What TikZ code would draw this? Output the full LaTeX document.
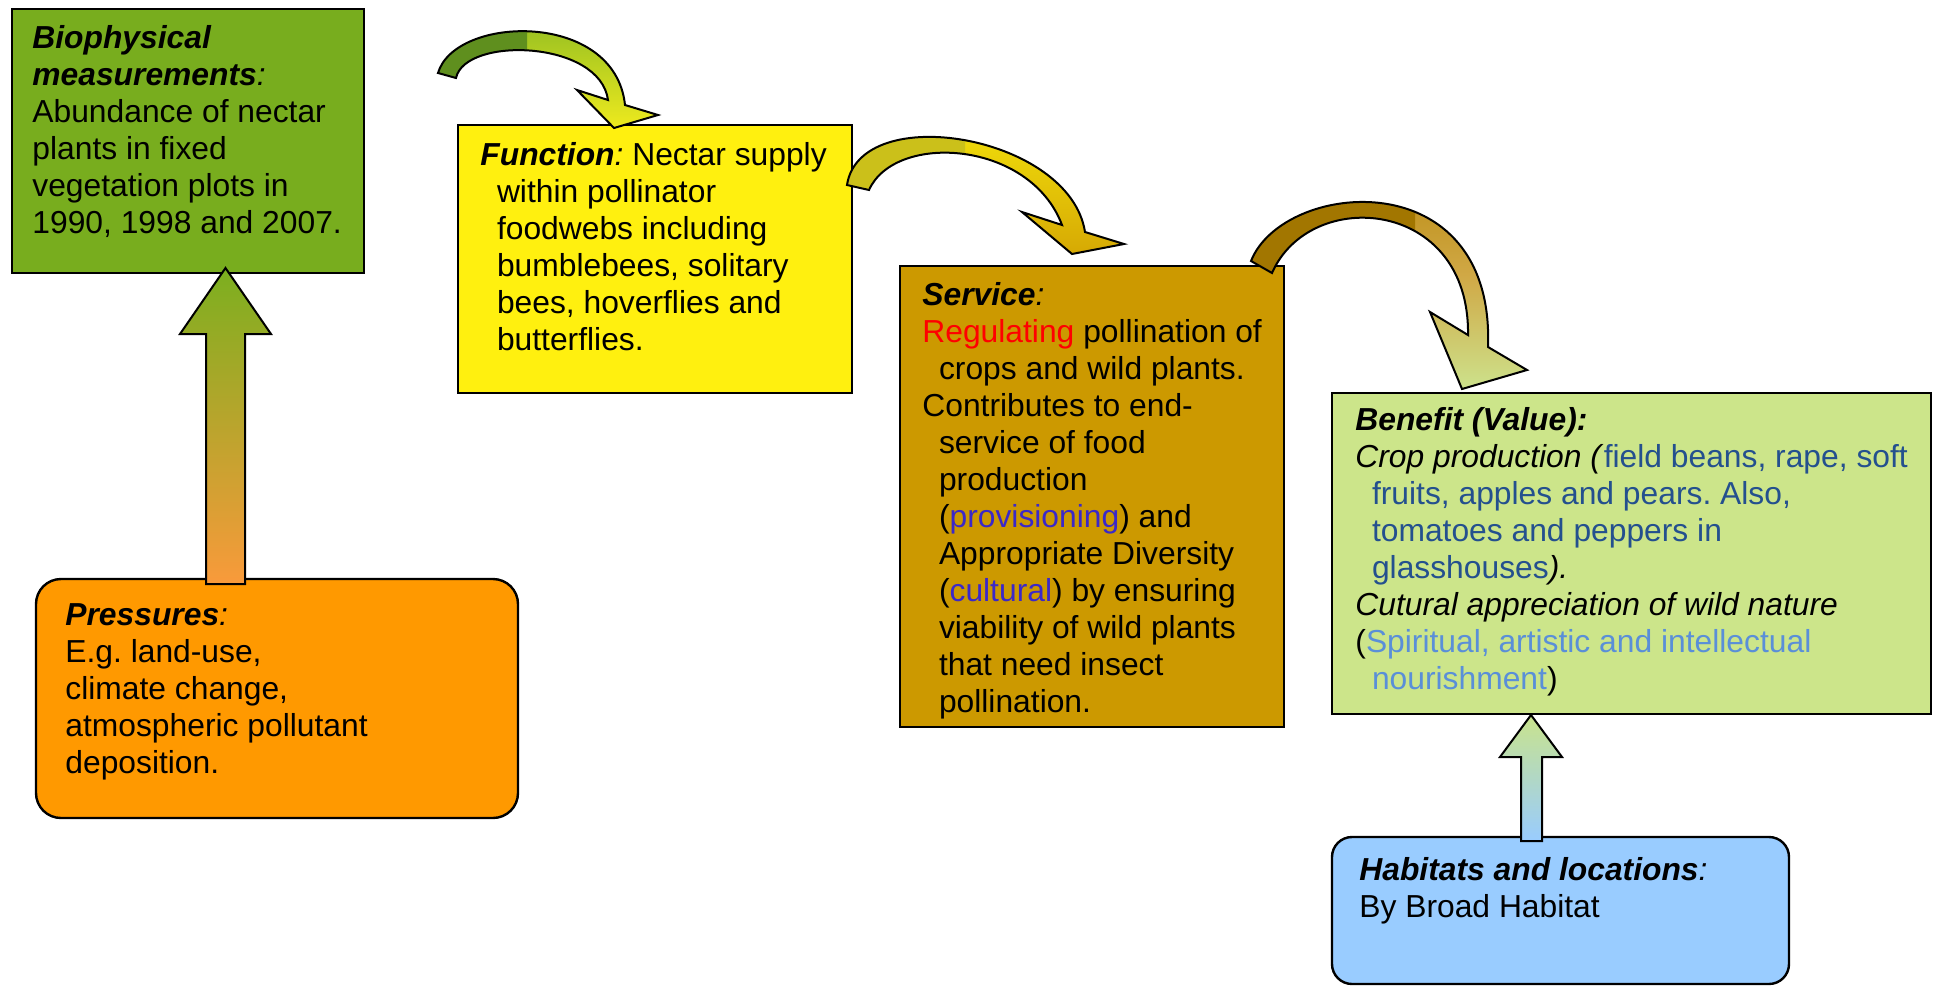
\documentclass[tikz,border=0pt]{standalone}
\usepackage{fontspec}
\setmainfont{Liberation Sans}
\usetikzlibrary{fit}

% box fills
\definecolor{bioGreen}{HTML}{78AD1E}
\definecolor{funcYellow}{HTML}{FFF00F}
\definecolor{servGold}{HTML}{CC9900}
\definecolor{beneGreen}{HTML}{CCE58A}
\definecolor{pressOrange}{HTML}{FF9900}
\definecolor{habBlue}{HTML}{99CCFF}
% text colours
\definecolor{regRed}{HTML}{FF0000}
\definecolor{provBlue}{HTML}{3B28C8}
\definecolor{cropBlue}{HTML}{24508E}
\definecolor{spiritBlue}{HTML}{5A8FD8}
% curved link colours
\definecolor{linkAback}{HTML}{5F8F1E}
\definecolor{linkAtop}{HTML}{8DBB22}
\definecolor{linkAbot}{HTML}{EEEA1E}
\definecolor{linkBback}{HTML}{CBC01A}
\definecolor{linkBtop}{HTML}{F6E80C}
\definecolor{linkBbot}{HTML}{D6A904}
\definecolor{linkCback}{HTML}{A27600}
\definecolor{linkCtop}{HTML}{B8880C}
\definecolor{linkCmid}{HTML}{D0A845}
\definecolor{linkCbot}{HTML}{CDE28C}
% straight arrow colours
\definecolor{upGreen}{HTML}{7BAF1F}
\definecolor{upOrange}{HTML}{F99A3B}
\definecolor{upLight}{HTML}{C9E38C}
\definecolor{upBlue}{HTML}{99CCFF}

\newcommand{\hd}[1]{\textbf{\textit{#1}}}
\newcommand{\ind}{\hspace*{8.3pt}}
\newcommand{\lines}[1]{\parbox[t]{330pt}{\raggedright #1}}

% outlines of the three curved links (function, service, benefit)
\newcommand{\linkA}{(438,73) .. controls (455,15) and (615,10) .. (625,105)
  -- (658,115) -- (614,128) -- (577,90) -- (608,100)
  .. controls (600,40) and (465,36) .. (456,78) -- cycle}
\newcommand{\linkB}{(847,185) .. controls (860,100) and (1070,135) .. (1085,232)
  -- (1124,244) -- (1072,254) -- (1022,212) -- (1062,225)
  .. controls (1030,140) and (895,132) .. (869,190) -- cycle}
\newcommand{\linkC}{(1251,261) .. controls (1283,180) and (1495,160) .. (1488,347)
  -- (1527,370) -- (1462,389) -- (1430,312) -- (1468,335)
  .. controls (1470,198) and (1310,186) .. (1272,273) -- cycle}

\begin{document}
\frenchspacing
\begin{tikzpicture}[x=0.5pt,y=-0.5pt,
  box/.style={draw=black, line width=1.2pt, inner sep=0pt},
  txt/.style={inner sep=0pt, anchor=base west, font=\fontsize{15.9pt}{18.5pt}\selectfont},
  flow/.style={draw=black, line width=1pt, line join=miter}]
\useasboundingbox (0,0) rectangle (1933,986);

% boxes
\node[box, fill=bioGreen, fit={(12,9) (364,273)}] (bio) {};
\node[box, fill=funcYellow, fit={(458,125) (852,393)}] (func) {};
\node[box, fill=servGold, fit={(900,266) (1284,727)}] (serv) {};
\node[box, fill=beneGreen, fit={(1332,393) (1931,714)}] (bene) {};
\node[box, fill=pressOrange, rounded corners=12.5pt, fit={(36,579) (518,818)}] (press) {};
\node[box, fill=habBlue, rounded corners=10pt, fit={(1332,837) (1789,984)}] (hab) {};

% pressures -> biophysical measurements
\path[flow, top color=upGreen, bottom color=upOrange]
  (225.5,268) -- (271,334) -- (245,334) -- (245,584) -- (206,584) -- (206,334) -- (180,334) -- cycle;
% habitats -> benefit
\path[flow, top color=upLight, bottom color=upBlue]
  (1531,715) -- (1562,757) -- (1542,757) -- (1542,841) -- (1521,841) -- (1521,757) -- (1500,757) -- cycle;

% biophysical -> function
\shade[top color=linkAtop, bottom color=linkAbot] \linkA;
\begin{scope}
  \clip (0,0) rectangle (527,986);
  \fill[linkAback] \linkA;
\end{scope}
\path[flow] \linkA;

% function -> service
\shade[top color=linkBtop, bottom color=linkBbot] \linkB;
\begin{scope}
  \clip (0,0) rectangle (965,986);
  \fill[linkBback] \linkB;
\end{scope}
\path[flow] \linkB;

% service -> benefit
\shade[top color=linkCtop, bottom color=linkCbot, middle color=linkCmid] \linkC;
\begin{scope}
  \clip (0,0) rectangle (1415,986);
  \fill[linkCback] \linkC;
\end{scope}
\path[flow] \linkC;

% texts
\node[txt] (biotext) at (32,48) {\lines{%
\hd{Biophysical}\\
\hd{measurements}\textit{:}\\
Abundance of nectar\\
plants in fixed\\
vegetation plots in\\
1990, 1998 and 2007.}};

\node[txt] (functext) at (480,165) {\lines{%
\hd{Function}\textit{:} Nectar supply\\
\ind within pollinator\\
\ind foodwebs including\\
\ind bumblebees, solitary\\
\ind bees, hoverflies and\\
\ind butterflies.}};

\node[txt] (servtext) at (922,305) {\lines{%
\hd{Service}\textit{:}\\
\textcolor{regRed}{Regulating} pollination of\\
\ind crops and wild plants.\\
Contributes to end-\\
\ind service of food\\
\ind production\\
\ind (\textcolor{provBlue}{provisioning}) and\\
\ind Appropriate Diversity\\
\ind (\textcolor{provBlue}{cultural}) by ensuring\\
\ind viability of wild plants\\
\ind that need insect\\
\ind pollination.}};

\node[txt] (benetext) at (1355,430) {\lines{%
\hd{Benefit (Value):}\\
\textit{Crop production (}\textcolor{cropBlue}{field beans, rape, soft}\\
\ind\textcolor{cropBlue}{fruits, apples and pears. Also,}\\
\ind\textcolor{cropBlue}{tomatoes and peppers in}\\
\ind\textcolor{cropBlue}{glasshouses}\textit{).}\\
\textit{Cutural appreciation of wild nature}\\
(\textcolor{spiritBlue}{Spiritual, artistic and intellectual}\\
\ind\textcolor{spiritBlue}{nourishment})}};

\node[txt] (presstext) at (65,625) {\lines{%
\hd{Pressures}\textit{:}\\
E.g. land-use,\\
climate change,\\
atmospheric pollutant\\
deposition.}};

\node[txt] (habtext) at (1359,880) {\lines{%
\hd{Habitats and locations}\textit{:}\\
By Broad Habitat}};
\end{tikzpicture}
\end{document}
